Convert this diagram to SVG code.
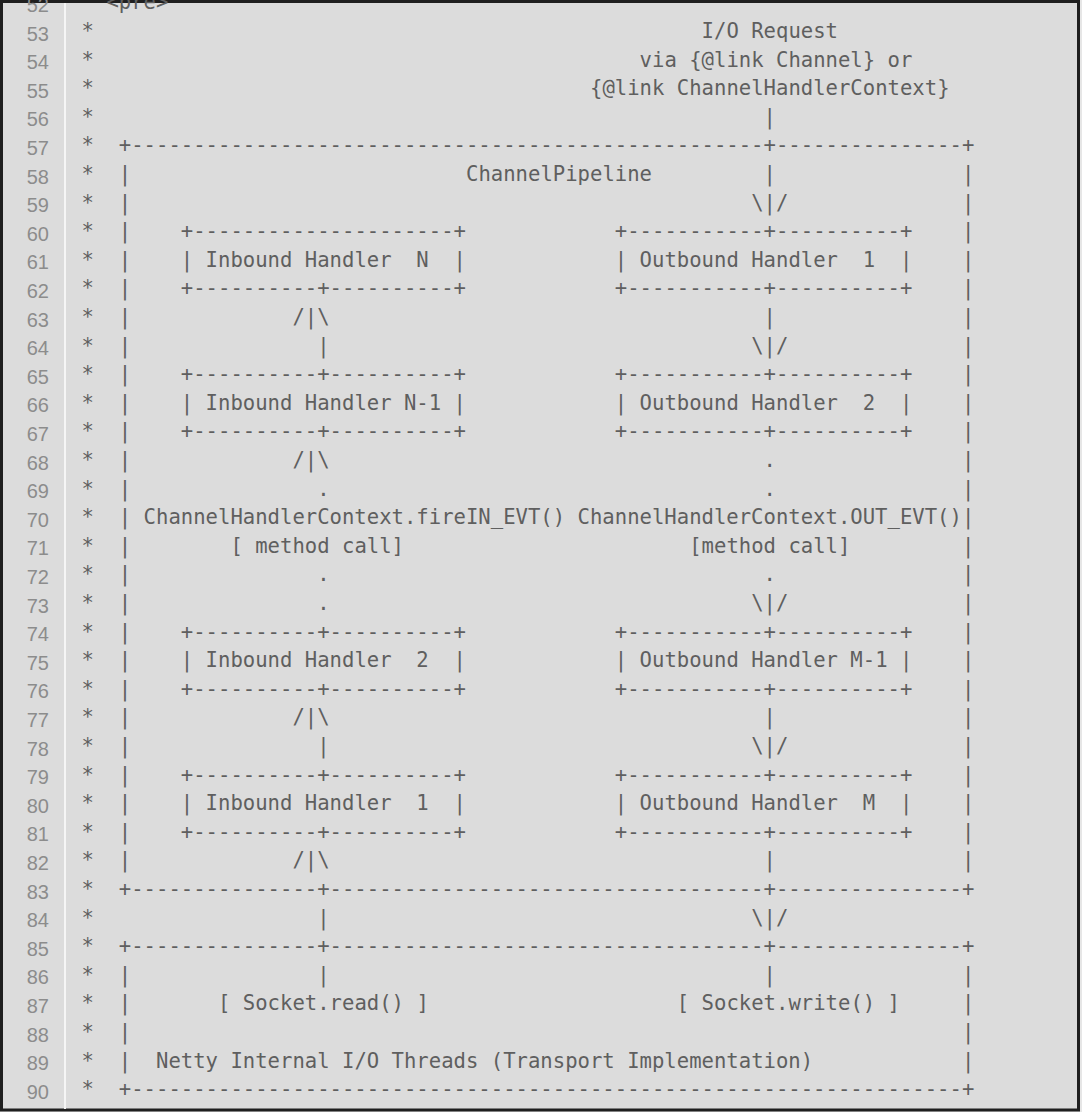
<svg xmlns="http://www.w3.org/2000/svg" width="1082" height="1112" viewBox="0 0 1082 1112">
<style>
.c{font-family:"DejaVu Sans Mono","Liberation Mono",monospace;font-size:20.6px;fill:#5f5f5f;white-space:pre}
.n{font-family:"Liberation Sans","DejaVu Sans",sans-serif;font-size:20px;fill:#8c8c8c;text-anchor:end}
</style>
<rect width="1082" height="1112" fill="#e6e6e6"/>
<rect x="1.5" y="1.5" width="1077" height="1108.5" fill="#dcdcdc" stroke="#1f1f1f" stroke-width="3"/>
<rect x="64" y="3" width="2" height="1106" fill="#f5f5f5"/>
<g id="gutter">
<text class="n"><tspan x="49" y="11.9">52</tspan><tspan x="49" y="40.5">53</tspan><tspan x="49" y="69.1">54</tspan><tspan x="49" y="97.7">55</tspan><tspan x="49" y="126.3">56</tspan><tspan x="49" y="154.9">57</tspan><tspan x="49" y="183.5">58</tspan><tspan x="49" y="212.1">59</tspan><tspan x="49" y="240.7">60</tspan><tspan x="49" y="269.3">61</tspan><tspan x="49" y="297.9">62</tspan><tspan x="49" y="326.5">63</tspan><tspan x="49" y="355.1">64</tspan><tspan x="49" y="383.7">65</tspan><tspan x="49" y="412.3">66</tspan><tspan x="49" y="440.9">67</tspan><tspan x="49" y="469.5">68</tspan><tspan x="49" y="498.1">69</tspan><tspan x="49" y="526.7">70</tspan><tspan x="49" y="555.3">71</tspan><tspan x="49" y="583.9">72</tspan><tspan x="49" y="612.5">73</tspan><tspan x="49" y="641.1">74</tspan><tspan x="49" y="669.7">75</tspan><tspan x="49" y="698.3">76</tspan><tspan x="49" y="726.9">77</tspan><tspan x="49" y="755.5">78</tspan><tspan x="49" y="784.1">79</tspan><tspan x="49" y="812.7">80</tspan><tspan x="49" y="841.3">81</tspan><tspan x="49" y="869.9">82</tspan><tspan x="49" y="898.5">83</tspan><tspan x="49" y="927.1">84</tspan><tspan x="49" y="955.7">85</tspan><tspan x="49" y="984.3">86</tspan><tspan x="49" y="1012.9">87</tspan><tspan x="49" y="1041.5">88</tspan><tspan x="49" y="1070.1">89</tspan><tspan x="49" y="1098.7">90</tspan></text>
</g>
<g id="comment-stars">
<text class="c" x="106.4" y="9.4">&lt;pre&gt;</text>
<text class="c"><tspan x="81.6" y="38">*</tspan><tspan x="81.6" y="66.6">*</tspan><tspan x="81.6" y="95.2">*</tspan><tspan x="81.6" y="123.8">*</tspan><tspan x="81.6" y="152.4">*</tspan><tspan x="81.6" y="181">*</tspan><tspan x="81.6" y="209.6">*</tspan><tspan x="81.6" y="238.2">*</tspan><tspan x="81.6" y="266.8">*</tspan><tspan x="81.6" y="295.4">*</tspan><tspan x="81.6" y="324">*</tspan><tspan x="81.6" y="352.6">*</tspan><tspan x="81.6" y="381.2">*</tspan><tspan x="81.6" y="409.8">*</tspan><tspan x="81.6" y="438.4">*</tspan><tspan x="81.6" y="467">*</tspan><tspan x="81.6" y="495.6">*</tspan><tspan x="81.6" y="524.2">*</tspan><tspan x="81.6" y="552.8">*</tspan><tspan x="81.6" y="581.4">*</tspan><tspan x="81.6" y="610">*</tspan><tspan x="81.6" y="638.6">*</tspan><tspan x="81.6" y="667.2">*</tspan><tspan x="81.6" y="695.8">*</tspan><tspan x="81.6" y="724.4">*</tspan><tspan x="81.6" y="753">*</tspan><tspan x="81.6" y="781.6">*</tspan><tspan x="81.6" y="810.2">*</tspan><tspan x="81.6" y="838.8">*</tspan><tspan x="81.6" y="867.4">*</tspan><tspan x="81.6" y="896">*</tspan><tspan x="81.6" y="924.6">*</tspan><tspan x="81.6" y="953.2">*</tspan><tspan x="81.6" y="981.8">*</tspan><tspan x="81.6" y="1010.4">*</tspan><tspan x="81.6" y="1039">*</tspan><tspan x="81.6" y="1067.6">*</tspan><tspan x="81.6" y="1096.2">*</tspan></text>
</g>
<g id="io-request">
<text class="c" x="701.6" y="38">I/O Request</text>
<text class="c" x="639.6" y="66.6">via {@link Channel} or</text>
<text class="c" x="590" y="95.2">{@link ChannelHandlerContext}</text>
</g>
<g id="channel-pipeline">
<text class="c" x="118.8" y="152.4">+---------------------------------------------------+---------------+</text>
<text class="c" x="466" y="181">ChannelPipeline</text>
<text class="c"><tspan x="118.8" y="181">|</tspan><tspan x="118.8" y="209.6">|</tspan><tspan x="118.8" y="238.2">|</tspan><tspan x="118.8" y="266.8">|</tspan><tspan x="118.8" y="295.4">|</tspan><tspan x="118.8" y="324">|</tspan><tspan x="118.8" y="352.6">|</tspan><tspan x="118.8" y="381.2">|</tspan><tspan x="118.8" y="409.8">|</tspan><tspan x="118.8" y="438.4">|</tspan><tspan x="118.8" y="467">|</tspan><tspan x="118.8" y="495.6">|</tspan><tspan x="118.8" y="524.2">|</tspan><tspan x="118.8" y="552.8">|</tspan><tspan x="118.8" y="581.4">|</tspan><tspan x="118.8" y="610">|</tspan><tspan x="118.8" y="638.6">|</tspan><tspan x="118.8" y="667.2">|</tspan><tspan x="118.8" y="695.8">|</tspan><tspan x="118.8" y="724.4">|</tspan><tspan x="118.8" y="753">|</tspan><tspan x="118.8" y="781.6">|</tspan><tspan x="118.8" y="810.2">|</tspan><tspan x="118.8" y="838.8">|</tspan><tspan x="118.8" y="867.4">|</tspan></text>
<text class="c"><tspan x="962" y="181">|</tspan><tspan x="962" y="209.6">|</tspan><tspan x="962" y="238.2">|</tspan><tspan x="962" y="266.8">|</tspan><tspan x="962" y="295.4">|</tspan><tspan x="962" y="324">|</tspan><tspan x="962" y="352.6">|</tspan><tspan x="962" y="381.2">|</tspan><tspan x="962" y="409.8">|</tspan><tspan x="962" y="438.4">|</tspan><tspan x="962" y="467">|</tspan><tspan x="962" y="495.6">|</tspan><tspan x="962" y="524.2">|</tspan><tspan x="962" y="552.8">|</tspan><tspan x="962" y="581.4">|</tspan><tspan x="962" y="610">|</tspan><tspan x="962" y="638.6">|</tspan><tspan x="962" y="667.2">|</tspan><tspan x="962" y="695.8">|</tspan><tspan x="962" y="724.4">|</tspan><tspan x="962" y="753">|</tspan><tspan x="962" y="781.6">|</tspan><tspan x="962" y="810.2">|</tspan><tspan x="962" y="838.8">|</tspan><tspan x="962" y="867.4">|</tspan></text>
<text class="c" x="118.8" y="896">+---------------+-----------------------------------+---------------+</text>
</g>
<g id="inbound-handler-n">
<text class="c" x="180.8" y="238.2">+---------------------+</text>
<text class="c" x="180.8" y="266.8">| Inbound Handler  N  |</text>
<text class="c" x="180.8" y="295.4">+----------+----------+</text>
</g>
<g id="inbound-handler-n-1">
<text class="c" x="180.8" y="381.2">+----------+----------+</text>
<text class="c" x="180.8" y="409.8">| Inbound Handler N-1 |</text>
<text class="c" x="180.8" y="438.4">+----------+----------+</text>
</g>
<g id="inbound-handler-2">
<text class="c" x="180.8" y="638.6">+----------+----------+</text>
<text class="c" x="180.8" y="667.2">| Inbound Handler  2  |</text>
<text class="c" x="180.8" y="695.8">+----------+----------+</text>
</g>
<g id="inbound-handler-1">
<text class="c" x="180.8" y="781.6">+----------+----------+</text>
<text class="c" x="180.8" y="810.2">| Inbound Handler  1  |</text>
<text class="c" x="180.8" y="838.8">+----------+----------+</text>
</g>
<g id="outbound-handler-1">
<text class="c" x="614.8" y="238.2">+-----------+----------+</text>
<text class="c" x="614.8" y="266.8">| Outbound Handler  1  |</text>
<text class="c" x="614.8" y="295.4">+-----------+----------+</text>
</g>
<g id="outbound-handler-2">
<text class="c" x="614.8" y="381.2">+-----------+----------+</text>
<text class="c" x="614.8" y="409.8">| Outbound Handler  2  |</text>
<text class="c" x="614.8" y="438.4">+-----------+----------+</text>
</g>
<g id="outbound-handler-m-1">
<text class="c" x="614.8" y="638.6">+-----------+----------+</text>
<text class="c" x="614.8" y="667.2">| Outbound Handler M-1 |</text>
<text class="c" x="614.8" y="695.8">+-----------+----------+</text>
</g>
<g id="outbound-handler-m">
<text class="c" x="614.8" y="781.6">+-----------+----------+</text>
<text class="c" x="614.8" y="810.2">| Outbound Handler  M  |</text>
<text class="c" x="614.8" y="838.8">+-----------+----------+</text>
</g>
<g id="method-calls">
<text class="c" x="143.6" y="524.2">ChannelHandlerContext.fireIN_EVT() ChannelHandlerContext.OUT_EVT()</text>
<text class="c" x="230.4" y="552.8">[ method call]</text>
<text class="c" x="689.2" y="552.8">[method call]</text>
</g>
<g id="connectors">
<text class="c"><tspan x="292.4" y="324">/|\</tspan><tspan x="292.4" y="467">/|\</tspan><tspan x="292.4" y="724.4">/|\</tspan><tspan x="292.4" y="867.4">/|\</tspan></text>
<text class="c"><tspan x="317.2" y="352.6">|</tspan><tspan x="317.2" y="753">|</tspan><tspan x="317.2" y="924.6">|</tspan><tspan x="317.2" y="981.8">|</tspan><tspan x="317.2" y="495.6">.</tspan><tspan x="317.2" y="581.4">.</tspan><tspan x="317.2" y="610">.</tspan></text>
<text class="c"><tspan x="763.6" y="123.8">|</tspan><tspan x="763.6" y="181">|</tspan><tspan x="763.6" y="324">|</tspan><tspan x="763.6" y="724.4">|</tspan><tspan x="763.6" y="867.4">|</tspan><tspan x="763.6" y="981.8">|</tspan><tspan x="763.6" y="467">.</tspan><tspan x="763.6" y="495.6">.</tspan><tspan x="763.6" y="581.4">.</tspan></text>
<text class="c"><tspan x="751.2" y="209.6">\|/</tspan><tspan x="751.2" y="352.6">\|/</tspan><tspan x="751.2" y="610">\|/</tspan><tspan x="751.2" y="753">\|/</tspan><tspan x="751.2" y="924.6">\|/</tspan></text>
</g>
<g id="transport">
<text class="c" x="118.8" y="953.2">+---------------+-----------------------------------+---------------+</text>
<text class="c"><tspan x="118.8" y="981.8">|</tspan><tspan x="118.8" y="1010.4">|</tspan><tspan x="118.8" y="1039">|</tspan><tspan x="118.8" y="1067.6">|</tspan><tspan x="962" y="981.8">|</tspan><tspan x="962" y="1010.4">|</tspan><tspan x="962" y="1039">|</tspan><tspan x="962" y="1067.6">|</tspan></text>
<text class="c" x="218" y="1010.4">[ Socket.read() ]</text>
<text class="c" x="676.8" y="1010.4">[ Socket.write() ]</text>
<text class="c" x="156" y="1067.6">Netty Internal I/O Threads (Transport Implementation)</text>
<text class="c" x="118.8" y="1096.2">+-------------------------------------------------------------------+</text>
</g>
</svg>
